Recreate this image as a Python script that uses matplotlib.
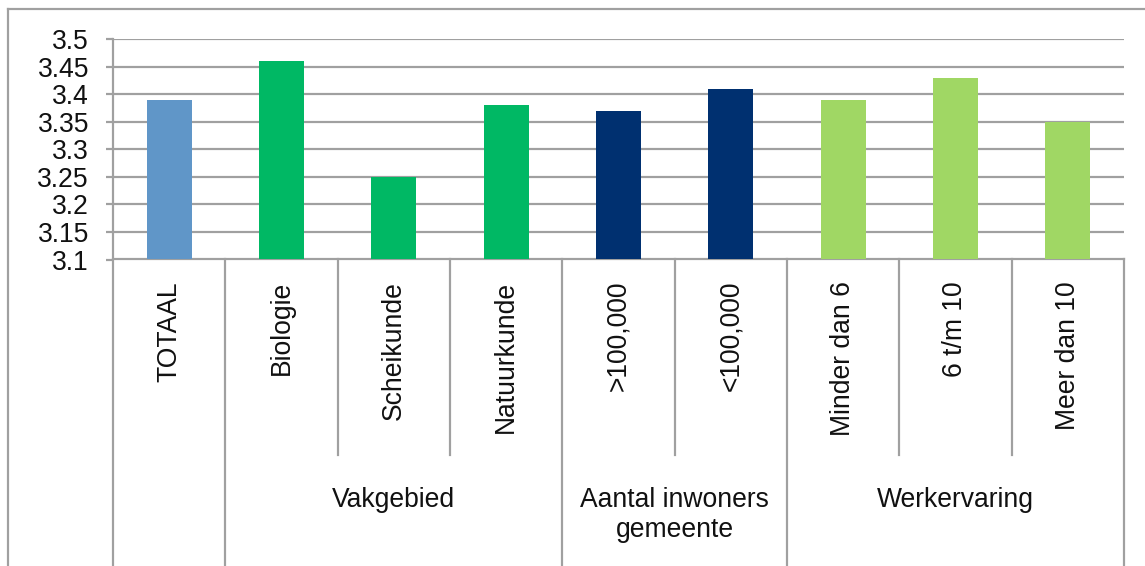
import matplotlib
matplotlib.use("Agg")
import matplotlib.pyplot as plt
from matplotlib.lines import Line2D

# Data
categories = ["TOTAAL", "Biologie", "Scheikunde", "Natuurkunde",
              ">100,000", "<100,000", "Minder dan 6", "6 t/m 10", "Meer dan 10"]
values = [3.39, 3.46, 3.25, 3.38, 3.37, 3.41, 3.39, 3.43, 3.35]
groups = ["", "Vakgebied", "Vakgebied", "Vakgebied",
          "Aantal inwoners\ngemeente", "Aantal inwoners\ngemeente",
          "Werkervaring", "Werkervaring", "Werkervaring"]
yticks = [3.1, 3.15, 3.2, 3.25, 3.3, 3.35, 3.4, 3.45, 3.5]
ytick_labels = ["3.1", "3.15", "3.2", "3.25", "3.3", "3.35", "3.4", "3.45", "3.5"]

group_colors = {
    "": "#6096C8",
    "Vakgebied": "#00B864",
    "Aantal inwoners\ngemeente": "#003070",
    "Werkervaring": "#A0D764",
}

W, H, DPI = 1145, 566, 100
GRID = "#A0A0A0"
FONT = "Liberation Sans"
FS = 19.1
TXT = "#111111"
px = 72.0 / DPI  # points per pixel

fig = plt.figure(figsize=(W / DPI, H / DPI), dpi=DPI)
left, right, top, bottom = 113, 1124, 39, 259.5
ax = fig.add_axes([left / W, 1 - bottom / H, (right - left) / W, (bottom - top) / H])

x = list(range(len(categories)))
colors = [group_colors[g] for g in groups]
ax.bar(x, values, width=0.4, color=colors, zorder=3)

ax.set_xlim(-0.5, len(categories) - 0.5)
ax.set_ylim(3.1, 3.5)
ax.set_yticks(yticks)
ax.set_yticklabels(ytick_labels, fontfamily=FONT, fontsize=FS)
ax.set_xticks([])
ax.yaxis.grid(True, color=GRID, linewidth=2.2 * px, zorder=0)
ax.tick_params(axis="y", length=7 * px, width=2.2 * px,
               color=GRID, pad=17 * px, labelcolor=TXT)

for side in ["top", "right", "left"]:
    ax.spines[side].set_visible(False)
ax.spines["bottom"].set_color(GRID)
ax.spines["bottom"].set_linewidth(2.2 * px)

ax_h = bottom - top
def yfrac(ypix):
    return -(ypix - bottom) / ax_h

trans = ax.get_xaxis_transform()
n = len(categories)
y_full = yfrac(H + 5)
y_inner = yfrac(455)

# Category separators: full-height where a group changes, short inside a group
for b in range(n + 1):
    if b == 0 or b == n or groups[b - 1] != groups[b]:
        y0 = y_full
        y1 = 1.0 if b == 0 else 0.0
    else:
        y0 = y_inner
        y1 = 0.0
    ax.add_line(Line2D([b - 0.5, b - 0.5], [y0, y1], transform=trans,
                       color=GRID, linewidth=2.2 * px, clip_on=False, zorder=1))

# Category labels
for i, c in enumerate(categories):
    ax.text(i, yfrac(281), c, rotation=90, ha="center", va="top",
            transform=trans, fontfamily=FONT, fontsize=FS, color=TXT)

# Group labels centred under their categories
seen = []
for g in groups:
    if g and g not in seen:
        seen.append(g)
for g in seen:
    idx = [i for i, gg in enumerate(groups) if gg == g]
    xc = (idx[0] + idx[-1]) / 2
    ax.text(xc, yfrac(487), g, ha="center", va="top", multialignment="center",
            transform=trans, fontfamily=FONT, fontsize=FS, color=TXT,
            linespacing=1.22)

# Chart frame
fig.add_artist(Line2D([8.3 / W, 8.3 / W], [0, 1 - 9.3 / H], color=GRID, linewidth=2.2 * px))
fig.add_artist(Line2D([8.3 / W, 1], [1 - 9.3 / H, 1 - 9.3 / H], color=GRID, linewidth=2.2 * px))

fig.savefig("out.png", dpi=DPI)
